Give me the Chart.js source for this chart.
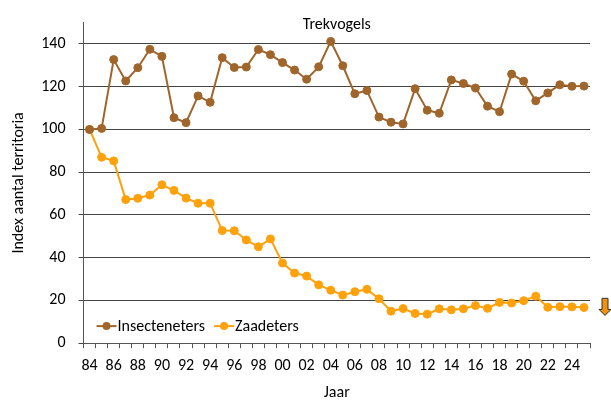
<!DOCTYPE html>
<html>
<head>
<meta charset="utf-8">
<script src="https://cdn.jsdelivr.net/npm/chart.js@4/dist/chart.umd.min.js"></script>
<style>
  html, body { margin: 0; padding: 0; background: #fff; }
  #wrap { width: 611px; height: 400px; }
</style>
</head>
<body>
<div id="wrap"><canvas id="chart" width="611" height="400"></canvas></div>
<script>
// Jaren 1984 - 2025, labels als twee cijfers
const years = ['84','85','86','87','88','89','90','91','92','93','94','95','96','97','98','99',
  '00','01','02','03','04','05','06','07','08','09','10','11','12','13','14','15','16','17',
  '18','19','20','21','22','23','24','25'];

const insecteneters = [100, 100.5, 132.7, 122.7, 128.9, 137.5, 134.2, 105.5, 103.2, 115.7, 112.7,
  133.6, 129, 129.2, 137.4, 135, 131.3, 127.8, 123.5, 129.3, 141.2, 129.8, 116.7, 118.2, 105.8,
  103.4, 102.6, 119.1, 109, 107.6, 123.2, 121.5, 119.4, 110.9, 108.3, 125.9, 122.6, 113.4, 117.1,
  120.9, 120.2, 120.3];

const zaadeters = [100, 87, 85.3, 67.2, 67.8, 69.3, 74.1, 71.5, 67.9, 65.5, 65.5, 52.7, 52.6, 48.3,
  45.1, 48.8, 37.5, 32.8, 31.4, 27.3, 24.8, 22.5, 24.1, 25.2, 20.8, 15, 16.2, 13.9, 13.6, 16.1,
  15.6, 16.1, 17.6, 16.3, 19.1, 18.8, 19.9, 22, 16.8, 17.1, 17, 16.7];

const yTicks = [0, 20, 40, 60, 80, 100, 120, 140];

const BROWN = '#a0652b';
const ORANGE = '#ffa10a';
const FONT = 'Carlito, Lato, "Open Sans", sans-serif';

// titel in het plotvlak, eigen legenda + pijltje rechts
const extras = {
  id: 'extras',
  afterDraw(chart) {
    const ctx = chart.ctx;
    const area = chart.chartArea;
    const y = chart.scales.y;
    ctx.save();
    ctx.font = '16px ' + FONT;
    ctx.textBaseline = 'middle';

    ctx.fillStyle = '#000';
    ctx.textAlign = 'center';
    ctx.fillText('Trekvogels', (area.left + area.right) / 2, y.getPixelForValue(149));
    ctx.textAlign = 'left';

    let x = area.left + 13;
    const ly = y.getPixelForValue(8);
    chart.data.datasets.forEach(ds => {
      ctx.strokeStyle = ds.borderColor;
      ctx.lineWidth = 2;
      ctx.beginPath();
      ctx.moveTo(x, ly);
      ctx.lineTo(x + 20, ly);
      ctx.stroke();
      ctx.fillStyle = ds.borderColor;
      ctx.beginPath();
      ctx.arc(x + 10, ly, 4, 0, Math.PI * 2);
      ctx.fill();
      ctx.fillStyle = '#000';
      ctx.fillText(ds.label, x + 21, ly + 1);
      x += 21 + ctx.measureText(ds.label).width + 9;
    });

    // pijl omlaag
    const ax = area.right + 15;
    const top = y.getPixelForValue(21);
    const bot = y.getPixelForValue(13);
    ctx.fillStyle = '#f0920c';
    ctx.strokeStyle = '#333';
    ctx.lineWidth = 1;
    ctx.beginPath();
    ctx.moveTo(ax - 3, top);
    ctx.lineTo(ax + 3, top);
    ctx.lineTo(ax + 3, bot - 6);
    ctx.lineTo(ax + 6, bot - 6);
    ctx.lineTo(ax, bot);
    ctx.lineTo(ax - 6, bot - 6);
    ctx.lineTo(ax - 3, bot - 6);
    ctx.closePath();
    ctx.fill();
    ctx.stroke();
    ctx.restore();
  }
};

new Chart(document.getElementById('chart'), {
  type: 'line',
  data: {
    labels: years,
    datasets: [
      {
        label: 'Insecteneters',
        data: insecteneters,
        borderColor: BROWN,
        backgroundColor: BROWN,
        borderWidth: 2,
        pointRadius: 4,
        pointBorderWidth: 1,
        pointHoverRadius: 4,
        tension: 0
      },
      {
        label: 'Zaadeters',
        data: zaadeters,
        borderColor: ORANGE,
        backgroundColor: ORANGE,
        borderWidth: 2,
        pointRadius: 4,
        pointBorderWidth: 1,
        pointHoverRadius: 4,
        tension: 0
      }
    ]
  },
  options: {
    responsive: false,
    animation: false,
    layout: { padding: { top: 13, right: 21, bottom: 1, left: 9 } },
    plugins: {
      legend: { display: false },
      tooltip: { enabled: false },
      title: { display: false }
    },
    scales: {
      x: {
        offset: true,
        grid: {
          offset: true,
          drawOnChartArea: false,
          drawTicks: true,
          tickLength: 5,
          color: '#555'
        },
        border: { color: '#555', width: 1 },
        ticks: {
          autoSkip: false,
          maxRotation: 0,
          color: '#000',
          font: { family: FONT, size: 16, lineHeight: 1 },
          padding: 10,
          callback: (v, i) => (i % 2 === 0 ? years[i] : '')
        },
        title: {
          display: true,
          text: 'Jaar',
          color: '#000',
          font: { family: FONT, size: 16, lineHeight: 0.8 },
          padding: { top: 2, bottom: 0 }
        }
      },
      y: {
        min: 0,
        max: 150,
        afterBuildTicks: axis => {
          axis.ticks = yTicks.map(v => ({ value: v }));
        },
        grid: {
          color: '#444',
          tickLength: 5,
          lineWidth: 1
        },
        border: { color: '#555', width: 1 },
        ticks: {
          color: '#000',
          font: { family: FONT, size: 16 },
          padding: 13
        },
        title: {
          display: true,
          text: 'Index aantal territoria',
          color: '#000',
          font: { family: FONT, size: 16 },
          padding: { top: 0, bottom: 0 }
        }
      }
    }
  },
  plugins: [extras]
});
</script>
</body>
</html>
